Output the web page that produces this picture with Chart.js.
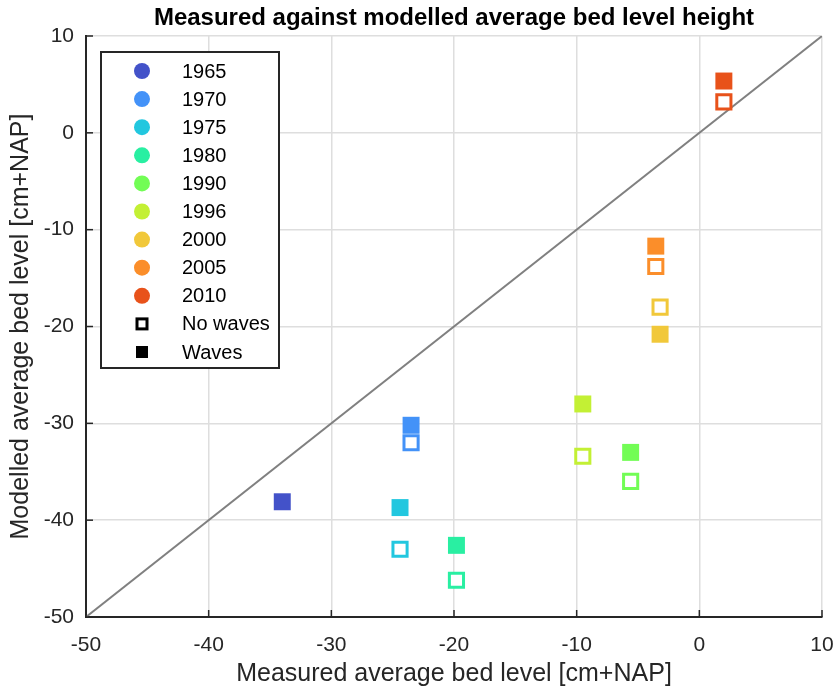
<!DOCTYPE html>
<html>
<head>
<meta charset="utf-8">
<script src="https://cdn.jsdelivr.net/npm/chart.js@4"></script>
<style>
  body { margin: 0; background: #fff; }
  #wrap { width: 837px; height: 693px; }
</style>
</head>
<body>
<div id="wrap"><canvas id="bedChart" width="837" height="693"></canvas></div>
<script>
// data
var years = ['1965', '1970', '1975', '1980', '1990', '1996', '2000', '2005', '2010'];
var yearColors = ['#4352C9', '#4392F8', '#22C7DF', '#29EFA2', '#72FD55', '#C3F034', '#F1C83A', '#FB8E2A', '#E8521A'];
var measured = [-34.0, -23.5, -24.4, -19.8, -5.6, -9.5, -3.2, -3.55, 2.0];
var modelledWaves = [-38.1, -30.2, -38.7, -42.6, -33.0, -28.0, -20.8, -11.7, 5.35];
var modelledNoWaves = [null, -32.0, -43.0, -46.2, -36.0, -33.4, -18.0, -13.8, 3.2];
var diagX = [-50, 10];
var tickVals = [-50, -40, -30, -20, -10, 0, 10];

var textColor = '#262626';
var font = "'Liberation Sans', Arial, Helvetica, sans-serif";

function toPoints(xs, ys) {
	var pts = [];
	for (var i = 0; i < xs.length; i++) {
		if (ys[i] !== null) pts.push({x: xs[i], y: ys[i]});
	}
	return pts;
}
function colorsFor(ys) {
	var c = [];
	for (var i = 0; i < ys.length; i++) {
		if (ys[i] !== null) c.push(yearColors[i]);
	}
	return c;
}

//Legend box drawn inside the axes, plus inward tick marks like matlab
var matlabExtras = {
	id: 'matlabExtras',
	afterDraw: function(chart) {
		var c = chart.ctx;
		var xs = chart.scales.x, ys = chart.scales.y;
		var area = chart.chartArea;
		c.save();
		c.strokeStyle = textColor;
		c.lineWidth = 1.5;
		tickVals.forEach(function(v) {
			var px = xs.getPixelForValue(v);
			c.beginPath(); c.moveTo(px, area.bottom); c.lineTo(px, area.bottom - 7); c.stroke();
			var py = ys.getPixelForValue(v);
			c.beginPath(); c.moveTo(area.left, py); c.lineTo(area.left + 7, py); c.stroke();
		});

		// legend
		var lx = 101, ly = 52, lw = 178, lh = 316;
		c.fillStyle = '#fff';
		c.fillRect(lx, ly, lw, lh);
		c.strokeStyle = textColor;
		c.lineWidth = 2;
		c.strokeRect(lx, ly, lw, lh);
		c.font = '20px ' + font;
		c.textBaseline = 'middle';
		c.textAlign = 'left';
		var step = 28.1;
		for (var i = 0; i < years.length; i++) {
			var cy = 71 + i * step;
			c.fillStyle = yearColors[i];
			c.beginPath(); c.arc(142, cy, 8, 0, Math.PI * 2); c.fill();
			c.fillStyle = '#000';
			c.fillText(years[i], 182, cy + 1);
		}
		var cyN = 71 + 9 * step, cyW = 71 + 10 * step;
		c.strokeStyle = '#000';
		c.lineWidth = 3;
		c.strokeRect(142 - 5, cyN - 5, 10, 10);
		c.fillStyle = '#000';
		c.fillRect(142 - 6, cyW - 6, 12, 12);
		c.fillText('No waves', 182, cyN + 1);
		c.fillText('Waves', 182, cyW + 1);
		c.restore();
	}
};

var ctx = document.getElementById('bedChart').getContext('2d');
var bedChart = new Chart(ctx, {
	type: 'scatter',
	data: {
		datasets: [{
			label: 'Waves',
			data: toPoints(measured, modelledWaves),
			pointStyle: 'rect',
			pointRadius: 12,
			pointHoverRadius: 12,
			pointBackgroundColor: colorsFor(modelledWaves),
			pointBorderWidth: 0,
			pointBorderColor: 'rgba(0,0,0,0)'
		}, {
			label: 'No waves',
			data: toPoints(measured, modelledNoWaves),
			pointStyle: 'rect',
			pointRadius: 10,
			pointHoverRadius: 10,
			pointBackgroundColor: '#fff',
			pointBorderWidth: 3,
			pointBorderColor: colorsFor(modelledNoWaves)
		}, {
			label: '1:1',
			data: toPoints(diagX, diagX),
			showLine: true,
			borderColor: '#808080',
			borderWidth: 2,
			pointRadius: 0
		}]
	},
	options: {
		responsive: false,
		animation: false,
		layout: { padding: { left: 0, right: 15, top: 0, bottom: 0 } },
		plugins: {
			legend: { display: false },
			tooltip: { enabled: false },
			title: {
				display: true,
				fullSize: false,
				text: 'Measured against modelled average bed level height',
				color: '#000',
				font: { family: font, size: 24, weight: 'bold', lineHeight: 1.2 },
				padding: { top: 4, bottom: 3.2 }
			}
		},
		scales: {
			x: {
				type: 'linear',
				min: -50, max: 10,
				afterBuildTicks: function(s) { s.ticks = tickVals.map(function(v) { return {value: v}; }); },
				afterFit: function(s) { s.height = 76; s.paddingLeft = 0; s.paddingRight = 0; },
				grid: { color: '#dedede', lineWidth: 1.5, drawTicks: false },
				border: { display: true, color: textColor, width: 2 },
				ticks: { color: textColor, font: { family: font, size: 21 }, padding: 16, maxRotation: 0 },
				title: {
					display: true,
					text: 'Measured average bed level [cm+NAP]',
					color: textColor,
					font: { family: font, size: 25 },
					padding: { top: 0, bottom: 4 }
				}
			},
			y: {
				type: 'linear',
				min: -50, max: 10,
				afterBuildTicks: function(s) { s.ticks = tickVals.map(function(v) { return {value: v}; }); },
				afterFit: function(s) { s.width = 86; s.paddingTop = 0; s.paddingBottom = 0; },
				grid: { color: '#dedede', lineWidth: 1.5, drawTicks: false },
				border: { display: true, color: textColor, width: 2 },
				ticks: { color: textColor, font: { family: font, size: 21 }, padding: 12 },
				title: {
					display: true,
					text: 'Modelled average bed level [cm+NAP]',
					color: textColor,
					font: { family: font, size: 25 },
					padding: { top: 6, bottom: 0 }
				}
			}
		}
	},
	plugins: [matlabExtras]
});
</script>
</body>
</html>
